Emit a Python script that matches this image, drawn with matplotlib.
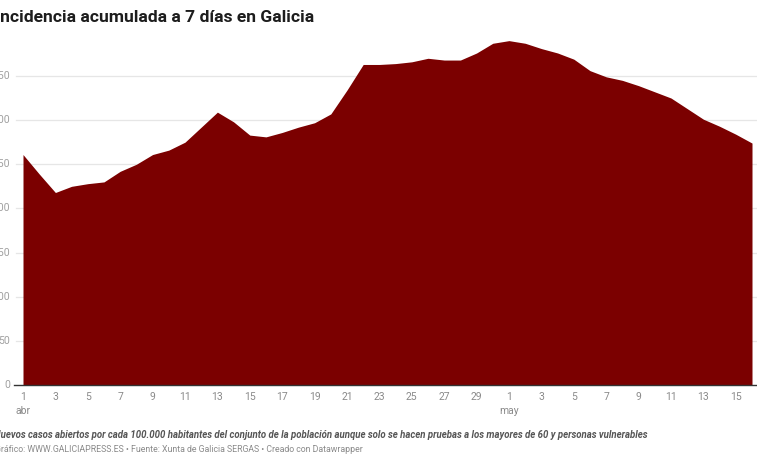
import matplotlib
matplotlib.use("Agg")
import matplotlib.pyplot as plt

# incidencia acumulada a 7 dias, 1 abr - 16 may
valores = [261, 239, 218, 225, 228, 230, 242, 250, 261, 266, 275, 292,
           309, 298, 283, 281, 286, 292, 297, 307, 334, 363, 363, 364,
           366, 370, 368, 368, 376, 387, 390, 387, 381, 376, 369, 356,
           349, 345, 339, 332, 325, 313, 301, 293, 284, 274]

etiquetas_x = ["1\nabr", "3", "5", "7", "9", "11", "13", "15", "17", "19",
               "21", "23", "25", "27", "29", "1\nmay", "3", "5", "7", "9",
               "11", "13", "15"]
posiciones_x = [0, 2, 4, 6, 8, 10, 12, 14, 16, 18, 20, 22, 24, 26, 28,
                30, 32, 34, 36, 38, 40, 42, 44]
niveles_y = [0, 50, 100, 150, 200, 250, 300, 350]

plt.rcParams['font.family'] = ['Roboto', 'DejaVu Sans']

W, H = 757, 463
fig = plt.figure(figsize=(W / 100, H / 100), dpi=100)
ax = fig.add_axes([23 / W, 1 - 385 / H, (752 - 23) / W, (385 - 31.8) / H])

x = list(range(len(valores)))
ax.fill_between(x, valores, 0, color="#7b0000", linewidth=0, zorder=3)

ax.set_xlim(0, len(valores) - 1)
ax.set_ylim(0, 400)

# lineas de referencia
for nivel in niveles_y[1:]:
    ax.axhline(nivel, xmin=-0.0096, xmax=1.0069, color="#e6e6e6",
               linewidth=0.9, clip_on=False, zorder=1)
ax.axhline(0, xmin=-0.012, xmax=1.0069, color="#333333",
           linewidth=1.0, clip_on=False, zorder=4)

for s in ax.spines.values():
    s.set_visible(False)

# etiquetas del eje y (recortadas por la izquierda, como en el original)
ax.set_yticks([])
for nivel in niveles_y:
    ax.text(-13 / 729 * (len(valores) - 1), nivel, str(nivel), ha="right",
            va="center", fontsize=7.5, color="#a0a0a0",
            transform=ax.transData, clip_on=False)

ax.set_xticks(posiciones_x)
ax.set_xticklabels(etiquetas_x, fontsize=7.5, color="#8a8a8a",
                   linespacing=1.5, va="top")
ax.tick_params(axis="x", length=0, pad=5)

fig.text(-5 / W, 1 - 17 / H, "Incidencia acumulada a 7 días en Galicia",
         fontsize=12.6, fontweight="bold", color="#1d1d1d",
         ha="left", va="center")

fig.text(-6 / W, 1 - 435 / H,
         "Nuevos casos abiertos por cada 100.000 habitantes del conjunto de la "
         "población aunque solo se hacen pruebas a los mayores de 60 y "
         "personas vulnerables",
         fontsize=6.9, fontweight="bold", style="italic", color="#555555",
         ha="left", va="center")
fig.text(-5 / W, 1 - 450 / H,
         "Gráfico: WWW.GALICIAPRESS.ES • Fuente: Xunta de Galicia SERGAS • "
         "Creado con Datawrapper",
         fontsize=6.35, color="#8a8a8a", ha="left", va="center")

fig.savefig("out.png", dpi=100)
